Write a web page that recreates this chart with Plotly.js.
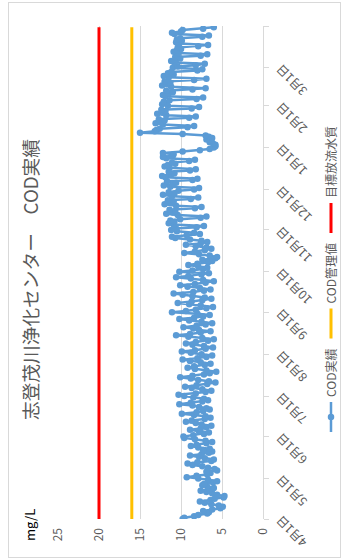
<!DOCTYPE html>
<html>
<head>
<meta charset="utf-8">
<script src="https://cdn.plot.ly/plotly-3.0.1.min.js"></script>
<style>
html,body{margin:0;padding:0;background:#fff;width:342px;height:559px;overflow:hidden;}
#wrap{position:absolute;left:0;top:0;width:559px;height:342px;transform-origin:0 0;transform:translate(0px,559px) rotate(-90deg);}
#chart{width:559px;height:342px;}
#frame{position:absolute;left:8px;top:2px;width:331px;height:554px;border:1px solid #d9d9d9;pointer-events:none;}
</style>
</head>
<body>
<div id="wrap"><div id="chart"></div></div>
<div id="frame"></div>
<script>
// ---- data (fiscal year, daily COD, mg/L) ----
const startDate = '2018-04-01';
const apr = [9.8,9.6,8.4,7.9,6.8,6.6,7.3,6.2,5.2,4.9,5.4,6.3,7.1,7.7,6.4,5.9,4.8,4.7,5.6,6.2,6.9,7.6,6.5,6.0,6.8,7.4,7.2,6.1,5.6,6.7];
const may = [7.9,9.3,8.1,6.8,6.4,6.9,5.6,5.9,6.7,7.4,8.6,9.2,8.0,6.3,6.0,7.1,7.8,8.9,7.5,6.6,6.2,7.3,6.5,7.9,8.8,8.1,6.9,6.2,7.0,8.3,9.6];
const jun = [9.7,8.5,7.2,6.6,7.8,8.9,7.6,6.9,6.3,7.5,8.2,9.4,8.7,7.1,6.4,7.0,8.4,9.9,8.1,7.3,6.5,6.9,7.8,8.6,10.2,8.8,7.4,6.7,7.2,8.5];
const jul = [9.6,10.3,8.2,7.0,6.3,7.4,8.7,9.5,8.1,6.8,5.8,6.6,7.9,8.8,10.1,8.6,7.2,6.5,5.7,6.9,8.3,9.2,8.4,7.1,6.4,7.6,8.9,9.8,8.0,6.9,6.2];
const aug = [7.5,8.8,9.9,8.3,7.0,6.1,7.2,8.6,9.4,8.2,6.7,6.0,7.4,9.1,10.6,8.9,7.6,6.4,7.8,8.5,9.7,8.1,7.0,6.2,7.5,9.0,10.2,8.4,7.3,6.5,8.0];
const sep = [11.1,9.4,8.2,6.9,6.1,7.6,9.0,10.4,8.7,7.4,6.3,7.1,8.6,9.8,10.9,8.5,7.2,6.4,7.7,9.2,10.1,8.3,7.0,6.0,7.3,8.8,10.6,9.1,7.5,6.6];
const oct = [10.2,8.6,7.3,6.8,7.9,9.1,8.0,6.7,6.2,7.4,5.8,5.6,6.5,7.8,9.6,8.3,7.1,6.3,6.9,8.2,9.4,7.6,6.8,7.5,8.9,10.7,11.1,9.3,7.7,8.4,10.5];
const nov = [11.2,10.6,8.1,7.2,10.9,11.5,10.8,11.3,10.1,7.6,6.9,10.4,11.8,11.0,10.7,11.4,8.3,7.5,10.6,12.0,11.2,10.9,11.6,8.8,7.9,11.1,12.2,10.8,11.5,10.3];
const dec = [8.4,7.8,11.3,12.1,11.0,10.6,11.7,8.6,8.0,11.9,12.3,11.2,10.8,11.5,8.9,8.2,11.4,12.0,11.6,10.7,11.1,9.0,8.3,11.8,12.2,11.0,10.9,12.2,9.8,7.7,6.5];
const jan = [6.0,5.8,5.8,6.1,6.5,6.3,6.9,6.2,6.6,7.0,9.8,15.0,13.2,13.0,12.6,9.2,8.4,12.2,13.1,12.5,12.0,12.7,9.0,8.2,11.8,12.9,12.3,11.9,12.4,8.7,7.8];
const feb = [11.6,12.3,11.8,12.1,11.4,8.1,7.3,11.9,12.2,11.5,11.0,11.8,8.6,7.0,11.2,12.3,11.7,11.3,12.0,8.4,6.9,11.5,12.1,10.9,11.6,11.2,8.0,7.4];
const mar = [11.0,10.4,8.2,7.1,10.8,11.2,10.6,10.1,10.7,7.6,6.8,10.3,10.9,10.5,10.0,10.4,7.9,6.7,10.2,10.6,9.9,10.5,10.1,7.4,6.6,10.8,11.1,10.0,9.8,7.3,6.0];

const codManagement = 16;   // COD管理値
const targetQuality = 20;   // 目標放流水質
const lastDate = '2019-03-31';

const tickDates = ['2018-04-01','2018-05-01','2018-06-01','2018-07-01','2018-08-01','2018-09-01','2018-10-01','2018-11-01','2018-12-01','2019-01-01','2019-02-01','2019-03-01','2019-04-01'];
const tickLabels = ['4月1日','5月1日','6月1日','7月1日','8月1日','9月1日','10月1日','11月1日','12月1日','1月1日','2月1日','3月1日',''];

// ---- build ----
const codValues = [].concat(apr,may,jun,jul,aug,sep,oct,nov,dec,jan,feb,mar);
const codDates = [];
const t0 = Date.UTC(2018,3,1);
for (let i=0;i<codValues.length;i++){
  const d = new Date(t0 + i*86400000);
  codDates.push(d.toISOString().slice(0,10));
}

const FONT = 'Noto Sans CJK JP, sans-serif';
const traces = [
  {x: codDates, y: codValues, type:'scatter', mode:'lines+markers', name:'COD実績',
   line:{color:'#5B9BD5', width:2.5}, marker:{color:'#5B9BD5', size:6.5, symbol:'circle'}},
  {x: [startDate,lastDate], y:[codManagement,codManagement], type:'scatter', mode:'lines', name:'COD管理値',
   line:{color:'#FFC000', width:3}},
  {x: [startDate,lastDate], y:[targetQuality,targetQuality], type:'scatter', mode:'lines', name:'目標放流水質',
   line:{color:'#FF0000', width:3}}
];

const layout = {
  width:559, height:342,
  margin:{l:40, r:26, t:58, b:79, autoexpand:false},
  paper_bgcolor:'#ffffff', plot_bgcolor:'#ffffff',
  font:{family:FONT, size:12, color:'#595959'},
  title:{text:'志登茂川浄化センター　COD実績', font:{family:FONT, size:18.7, color:'#595959'},
         x:0.5, xref:'container', xanchor:'center', y:1-31/342, yref:'container', yanchor:'middle'},
  xaxis:{type:'date', range:['2018-04-01','2019-04-01'], tickmode:'array', tickvals:tickDates, ticktext:tickLabels,
         tickangle:-45, ticks:'outside', ticklen:5, tickcolor:'#d9d9d9', showline:true, linecolor:'#d9d9d9', linewidth:1,
         showgrid:false, zeroline:false, tickfont:{family:FONT, size:12, color:'#595959'}},
  yaxis:{range:[0,25], dtick:5, tick0:0, showgrid:true, gridcolor:'#d9d9d9', gridwidth:1, zeroline:false, showline:false,
         ticks:'', ticklabelstandoff:8, tickfont:{family:FONT, size:12, color:'#595959'}},
  showlegend:true,
  legend:{orientation:'h', x:0.487, xanchor:'center', y:(263-331)/205, yanchor:'middle', itemwidth:30,
          font:{family:FONT, size:12, color:'#595959'}, bgcolor:'rgba(0,0,0,0)'},
  annotations:[{text:'mg/L', xref:'paper', yref:'paper', x:(16-40)/493, y:(263-29)/205, xanchor:'left', yanchor:'middle',
               showarrow:false, font:{family:FONT, size:13, color:'#000000'}}]
};

Plotly.newPlot('chart', traces, layout, {staticPlot:true, displayModeBar:false});
</script>
</body>
</html>
